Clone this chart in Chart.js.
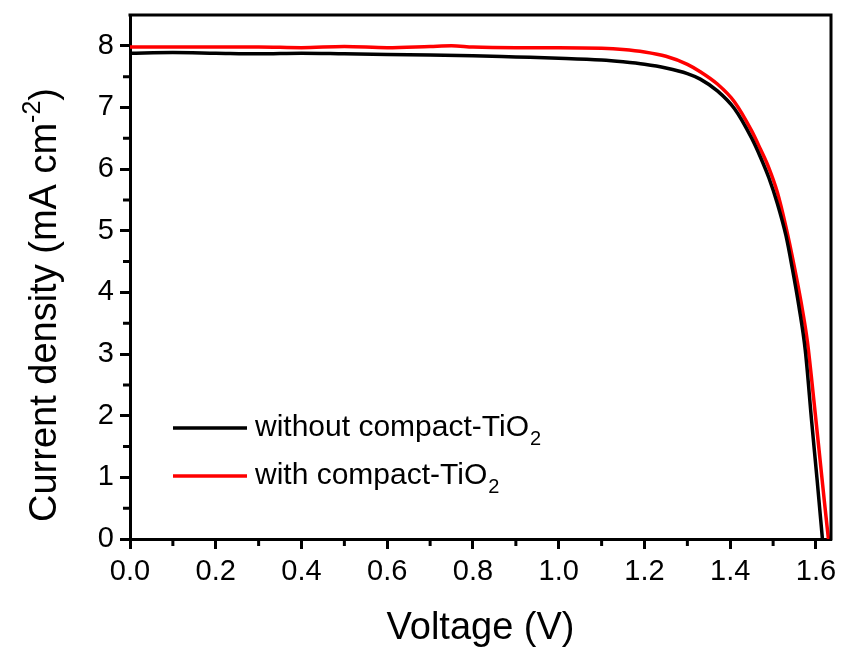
<!DOCTYPE html>
<html>
<head>
<meta charset="utf-8">
<script src="https://cdn.jsdelivr.net/npm/chart.js@4"></script>
<style>
  html, body { margin: 0; padding: 0; background: #fff; }
  #wrap { width: 842px; height: 651px; }
</style>
</head>
<body>
<div id="wrap"><canvas id="myChart"></canvas></div>
<script>
// J-V curves
const voltsWithout = [0, 0.1, 0.2, 0.3, 0.4, 0.5, 0.6, 0.7, 0.8, 0.9, 1.0, 1.1, 1.15, 1.2, 1.25, 1.3, 1.33, 1.37, 1.41, 1.45, 1.47, 1.49, 1.51, 1.53, 1.545, 1.56, 1.575, 1.59, 1.603, 1.615];
const currentWithout = [7.88, 7.89, 7.88, 7.87, 7.88, 7.87, 7.86, 7.85, 7.84, 7.82, 7.80, 7.77, 7.74, 7.70, 7.64, 7.55, 7.46, 7.27, 6.98, 6.50, 6.20, 5.86, 5.44, 4.92, 4.38, 3.78, 3.06, 1.90, 0.93, 0];

const voltsWith = [0, 0.1, 0.2, 0.3, 0.4, 0.5, 0.6, 0.7, 0.75, 0.8, 0.9, 1.0, 1.1, 1.15, 1.2, 1.25, 1.3, 1.33, 1.37, 1.41, 1.45, 1.47, 1.49, 1.51, 1.53, 1.55, 1.565, 1.58, 1.595, 1.61, 1.62, 1.629];
const currentWith = [7.98, 7.98, 7.98, 7.98, 7.97, 7.99, 7.97, 7.99, 8.00, 7.98, 7.97, 7.97, 7.96, 7.94, 7.90, 7.83, 7.70, 7.58, 7.38, 7.09, 6.62, 6.33, 6.02, 5.62, 5.06, 4.40, 3.85, 3.20, 2.25, 1.25, 0.58, 0];

const seriesLabels = ["without compact-TiO2", "with compact-TiO2"];
const seriesColors = ["#000000", "#ff0000"];
const xTicks = [0, 0.2, 0.4, 0.6, 0.8, 1.0, 1.2, 1.4, 1.6];
const yTicks = [0, 1, 2, 3, 4, 5, 6, 7, 8];
const xMinor = [0.1, 0.3, 0.5, 0.7, 0.9, 1.1, 1.3, 1.5];
const yMinor = [0.5, 1.5, 2.5, 3.5, 4.5, 5.5, 6.5, 7.5];
const xTitle = "Voltage (V)";
const yTitle = "Current density (mA cm";
const yTitleSup = "-2";

const FONT = "'Liberation Sans', Arial, sans-serif";

function pairs(xs, ys) {
  return xs.map((x, i) => ({ x: x, y: ys[i] }));
}

// frame, minor ticks, custom legend and y title
const extras = {
  id: 'extras',
  afterDraw(chart) {
    const ctx = chart.ctx;
    const a = chart.chartArea;
    const xs = chart.scales.x, ys = chart.scales.y;
    ctx.save();
    ctx.strokeStyle = '#000';
    ctx.lineWidth = 3;
    ctx.beginPath();
    ctx.moveTo(a.left - 1.5, a.top);
    ctx.lineTo(a.right, a.top);
    ctx.lineTo(a.right, a.bottom + 1.5);
    ctx.stroke();

    // minor ticks
    ctx.beginPath();
    xMinor.forEach(v => {
      const px = xs.getPixelForValue(v);
      ctx.moveTo(px, a.bottom);
      ctx.lineTo(px, a.bottom + 7);
    });
    yMinor.forEach(v => {
      const py = ys.getPixelForValue(v);
      ctx.moveTo(a.left, py);
      ctx.lineTo(a.left - 7, py);
    });
    ctx.stroke();

    // legend
    ctx.textBaseline = 'middle';
    ctx.fillStyle = '#000';
    seriesLabels.forEach((lab, i) => {
      const y = 428 + i * 48;
      ctx.strokeStyle = seriesColors[i];
      ctx.lineWidth = 3.5;
      ctx.beginPath();
      ctx.moveTo(173, y);
      ctx.lineTo(247, y);
      ctx.stroke();
      const main = lab.slice(0, -1);
      const sub = lab.slice(-1);
      ctx.font = '30px ' + FONT;
      ctx.fillText(main, 255, y);
      const w = ctx.measureText(main).width;
      ctx.font = '20px ' + FONT;
      ctx.fillText(sub, 255 + w + 1, y + 11);
    });

    // y title with superscript
    ctx.translate(46, 305);
    ctx.rotate(-Math.PI / 2);
    ctx.font = '38px ' + FONT;
    const w1 = ctx.measureText(yTitle).width;
    ctx.font = '25px ' + FONT;
    const w2 = ctx.measureText(yTitleSup).width;
    ctx.font = '38px ' + FONT;
    const start = -(w1 + w2 + ctx.measureText(')').width) / 2;
    ctx.fillStyle = '#000';
    ctx.textBaseline = 'middle';
    ctx.fillText(yTitle, start, 0);
    ctx.font = '25px ' + FONT;
    ctx.fillText(yTitleSup, start + w1, -13);
    ctx.font = '38px ' + FONT;
    ctx.fillText(')', start + w1 + w2, 0);
    ctx.restore();
  }
};

new Chart(document.getElementById('myChart'), {
  type: 'line',
  data: {
    datasets: [
      {
        label: seriesLabels[0],
        data: pairs(voltsWithout, currentWithout),
        borderColor: seriesColors[0],
        backgroundColor: seriesColors[0],
        borderWidth: 3.5,
        pointRadius: 0,
        cubicInterpolationMode: 'monotone',
        fill: false
      },
      {
        label: seriesLabels[1],
        data: pairs(voltsWith, currentWith),
        borderColor: seriesColors[1],
        backgroundColor: seriesColors[1],
        borderWidth: 3.5,
        pointRadius: 0,
        cubicInterpolationMode: 'monotone',
        fill: false
      }
    ]
  },
  options: {
    responsive: true,
    maintainAspectRatio: false,
    animation: false,
    layout: { padding: { top: 15, right: 11, left: 0, bottom: 0 } },
    plugins: {
      legend: { display: false },
      tooltip: { enabled: false }
    },
    scales: {
      x: {
        type: 'linear',
        min: 0,
        max: 1.635,
        afterFit(s) { s.height = 112; s.paddingRight = 0; s.paddingLeft = 0; },
        afterBuildTicks(s) { s.ticks = xTicks.map(v => ({ value: v })); },
        border: { color: '#000', width: 3 },
        grid: { drawOnChartArea: false, drawTicks: true, tickLength: 10, tickWidth: 3, color: '#000' },
        ticks: {
          color: '#000',
          font: { size: 29, family: FONT },
          padding: 6,
          maxRotation: 0,
          callback: v => v.toFixed(1)
        },
        title: {
          display: true,
          text: xTitle,
          color: '#000',
          font: { size: 38, family: FONT, lineHeight: 1.2 },
          padding: { top: 0, bottom: 0 }
        }
      },
      y: {
        min: 0,
        max: 8.5,
        afterFit(s) { s.width = 130; s.paddingTop = 0; s.paddingBottom = 0; },
        afterBuildTicks(s) { s.ticks = yTicks.map(v => ({ value: v })); },
        border: { color: '#000', width: 3 },
        grid: { drawOnChartArea: false, drawTicks: true, tickLength: 10, tickWidth: 3, color: '#000' },
        ticks: {
          color: '#000',
          font: { size: 29, family: FONT },
          padding: 6,
          callback: v => String(v)
        }
      }
    }
  },
  plugins: [extras]
});
</script>
</body>
</html>
